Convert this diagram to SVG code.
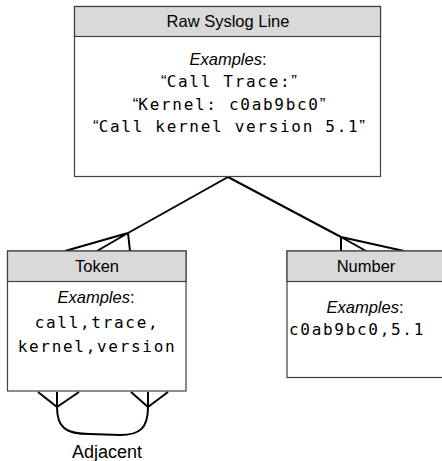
<svg xmlns="http://www.w3.org/2000/svg" width="442" height="461" viewBox="0 0 442 461">
<style>
.box{fill:#fff;stroke:#404040;stroke-width:1.2}
.hdr{fill:#d9d9d9;stroke:#404040;stroke-width:1.2}
.ht{font-family:"Liberation Sans",Arial,sans-serif;font-size:16.5px;fill:#000;text-anchor:middle}
.ex{font-family:"Liberation Sans",Arial,sans-serif;font-size:16.5px;fill:#000;text-anchor:middle}
.ex .i{font-style:italic}
.mono{font-family:"DejaVu Sans Mono",monospace;font-size:16px;letter-spacing:1.7px;fill:#000;text-anchor:middle}
.q{font-family:"Liberation Sans",Arial,sans-serif;font-size:17px;letter-spacing:0}
.ln{fill:none;stroke:#000;stroke-width:2;stroke-linejoin:round}
.lab{font-family:"Liberation Sans",Arial,sans-serif;font-size:18px;fill:#000;text-anchor:middle}
</style>
<rect width="442" height="461" fill="#fff"/>
<g id="connectors">
<path class="ln" d="M228,177 L128,233 M228,177 L341,237"/>
<path class="ln" d="M128,233 L65,251 M128,233 L97,251 M128,233 L130,251"/>
<path class="ln" d="M341,237 L341,251 M341,237 L366,251 M341,237 L404,251"/>
<path class="ln" d="M57,407 L38,392 M57,407 L57,392 M57,407 L79,392"/>
<path class="ln" d="M148,407 L131,392 M148,407 L148,392 M148,407 L168,392"/>
<path class="ln" d="M57,407 C57,428 66,434 90,434 L120,435 C140,435 148,428 148,407"/>
<text class="lab" x="107" y="458">Adjacent</text>
</g>
<g id="raw">
<rect class="box" x="74.5" y="6.5" width="306" height="170"/>
<rect class="hdr" x="74.5" y="6.5" width="306" height="30"/>
<text class="ht" x="228" y="27">Raw Syslog Line</text>
<text class="ex" x="228" y="65"><tspan class="i">Examples</tspan>:</text>
<text class="mono" x="229" y="87"><tspan class="q">“</tspan>Call Trace:<tspan class="q">”</tspan></text>
<text class="mono" x="229" y="110"><tspan class="q">“</tspan>Kernel: c0ab9bc0<tspan class="q">”</tspan></text>
<text class="mono" x="229" y="132"><tspan class="q">“</tspan>Call kernel version 5.1<tspan class="q">”</tspan></text>
</g>
<g id="token">
<rect class="box" x="7.5" y="251" width="178.5" height="140"/>
<rect class="hdr" x="7.5" y="251" width="178.5" height="30.5"/>
<text class="ht" x="97" y="272">Token</text>
<text class="ex" x="96" y="303"><tspan class="i">Examples</tspan>:</text>
<text class="mono" x="97" y="328">call,trace,</text>
<text class="mono" x="97" y="352">kernel,version</text>
</g>
<g id="number">
<rect class="box" x="287" y="251" width="160" height="126.5"/>
<rect class="hdr" x="287" y="251" width="160" height="30.5"/>
<text class="ht" x="366" y="272">Number</text>
<text class="ex" x="365" y="313"><tspan class="i">Examples</tspan>:</text>
<text class="mono" x="357" y="335">c0ab9bc0,5.1</text>
</g>
</svg>
